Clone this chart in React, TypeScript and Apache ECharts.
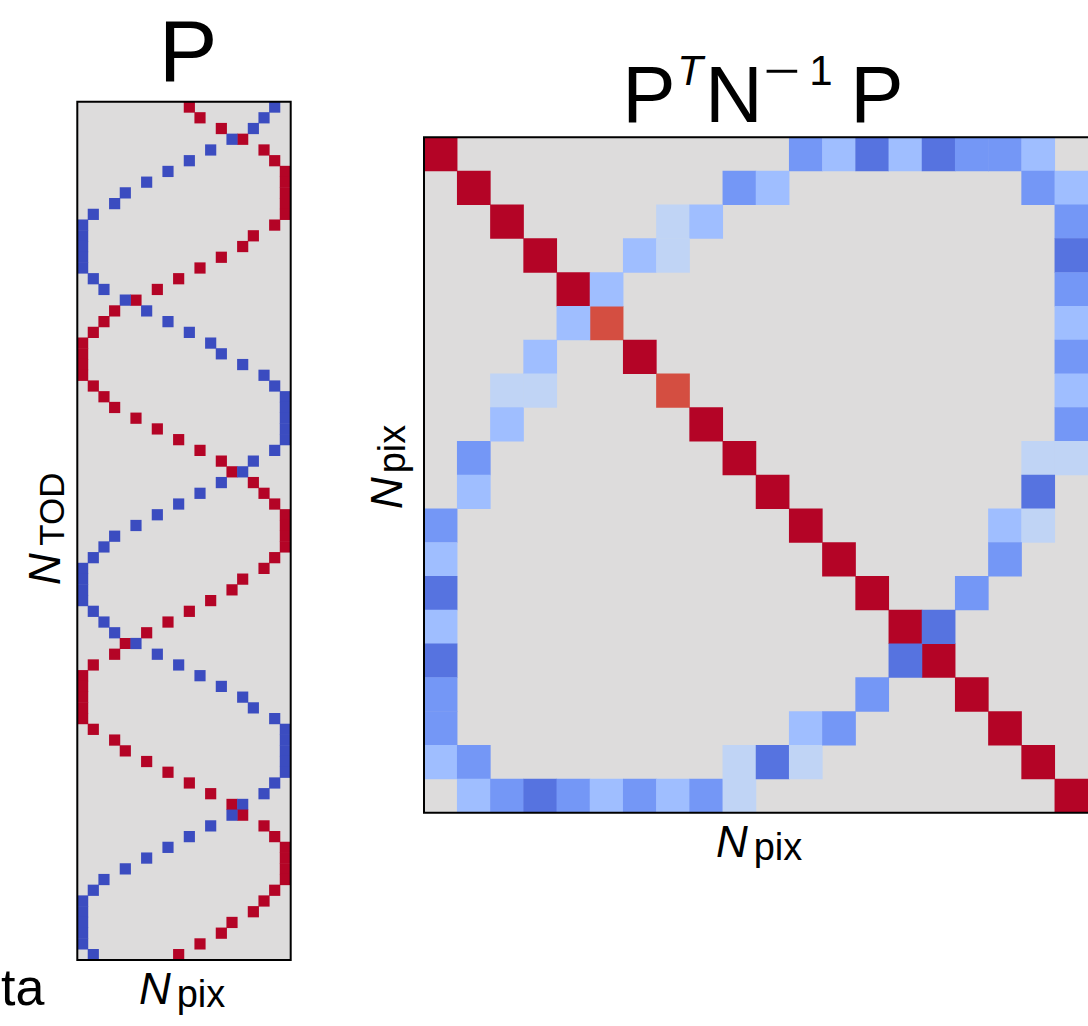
import React, { useEffect, useRef } from "react";
import * as echarts from "echarts";

// ---------- data ----------
const NPIX = 20;
const NTOD = 80;
const pixCategories = Array.from({ length: NPIX }, (_, i) => String(i));
const todCategories = Array.from({ length: NTOD }, (_, i) => String(i));

// P matrix: for each TOD sample, the pixel hit with +1 (red) and with -1 (blue)
const redPix = [
  10, 11, 13, 15, 17, 18, 19, 19, 19, 19,
  19, 18, 16, 15, 13, 11, 9, 7, 5, 3,
  2, 1, 0, 0, 0, 0, 1, 2, 3, 5,
  7, 9, 11, 13, 14, 16, 17, 18, 19, 19,
  19, 19, 18, 17, 15, 14, 12, 10, 8, 6,
  4, 3, 1, 0, 0, 0, 0, 0, 1, 3,
  4, 6, 8, 10, 12, 14, 15, 17, 18, 19,
  19, 19, 19, 18, 17, 16, 14, 13, 11, 9,
];
const bluePix = [
  18, 17, 16, 14, 12, 10, 8, 6, 4, 3,
  1, 0, 0, 0, 0, 0, 1, 2, 4, 6,
  8, 10, 12, 13, 15, 17, 18, 19, 19, 19,
  19, 19, 18, 16, 15, 13, 11, 9, 7, 5,
  3, 2, 1, 0, 0, 0, 0, 1, 2, 3,
  5, 7, 9, 11, 13, 15, 16, 18, 19, 19,
  19, 19, 19, 18, 17, 15, 14, 12, 10, 8,
  6, 4, 2, 1, 0, 0, 0, 0, 0, 1,
];
const redValue = 1;
const blueValue = -1;

// P^T N^-1 P (normalised to the colour range)
const diagValues = [1, 1, 1, 1, 1, 0.82, 1, 0.82, 1, 1, 1, 1, 1, 1, 1, 1, 1, 1, 1, 1];
// upper-triangle off-diagonal entries [row, col, value]; the matrix is symmetric
const offDiag: [number, number, number][] = [
  [0, 11, -0.64], [0, 12, -0.4], [0, 13, -0.82], [0, 14, -0.4], [0, 15, -0.82],
  [0, 16, -0.64], [0, 17, -0.64], [0, 18, -0.4],
  [1, 9, -0.64], [1, 10, -0.4], [1, 18, -0.64], [1, 19, -0.4],
  [2, 7, -0.2], [2, 8, -0.4], [2, 19, -0.64],
  [3, 6, -0.4], [3, 7, -0.2], [3, 19, -0.82],
  [4, 5, -0.4], [4, 19, -0.64],
  [5, 19, -0.4],
  [6, 19, -0.64],
  [7, 19, -0.4],
  [8, 19, -0.64],
  [9, 18, -0.2], [9, 19, -0.2],
  [10, 18, -0.82],
  [11, 17, -0.4], [11, 18, -0.2],
  [12, 17, -0.64],
  [13, 16, -0.64],
  [14, 15, -0.82],
];

// matplotlib "coolwarm"
const coolwarm = [
  "#3b4cc0", "#445acc", "#4d68d7", "#5775e1", "#6282ea", "#6c8ef1", "#779af7", "#82a5fb",
  "#8db0fe", "#98b9ff", "#a3c2ff", "#aec9fd", "#b8d0f9", "#c2d5f4", "#ccd9ee", "#d5dbe6",
  "#dddcdc", "#e5d8d1", "#ecd3c5", "#f1ccb8", "#f5c4ad", "#f7bba0", "#f7b194", "#f7a688",
  "#f49a7b", "#f18d6f", "#ec7f63", "#e57058", "#de604d", "#d55042", "#cb3e38", "#c0282f",
  "#b40426",
];
const zeroColor = "#dddcdc";

// ---------- layout ----------
const FONT = "'Liberation Sans', Arial, sans-serif";
const leftBox = { left: 77.3, top: 101.7, width: 213.4, height: 858.3 };
const rightBox = { left: 424, top: 137.3, width: 675.4, height: 675.4 };

function buildPData() {
  const d: [number, number, number][] = [];
  for (let r = 0; r < NTOD; r++) {
    d.push([redPix[r], r, redValue]);
    d.push([bluePix[r], r, blueValue]);
  }
  return d;
}

function buildMData() {
  const d: [number, number, number][] = [];
  diagValues.forEach((v, i) => d.push([i, i, v]));
  offDiag.forEach(([r, c, v]) => {
    d.push([c, r, v]);
    d.push([r, c, v]);
  });
  return d;
}

function txt(
  text: string,
  x: number,
  y: number,
  fontSize: number,
  opts: any = {}
) {
  return {
    type: "text",
    x,
    y,
    rotation: opts.rotation || 0,
    scaleX: opts.scaleX || 1,
    z: 100,
    style: {
      text,
      fontSize,
      fontFamily: FONT,
      fontStyle: opts.italic ? "italic" : "normal",
      fill: "#000",
      align: opts.align || "center",
      verticalAlign: "middle",
    },
  };
}

function frame(b: { left: number; top: number; width: number; height: number }) {
  return {
    type: "rect",
    z: 100,
    shape: { x: b.left, y: b.top, width: b.width, height: b.height },
    style: { fill: "transparent", stroke: "#000", lineWidth: 2 },
  };
}

export default function App() {
  const ref = useRef<HTMLDivElement>(null);

  useEffect(() => {
    if (!ref.current) return;
    const chart = echarts.init(ref.current, null, { renderer: "svg" });
    const option: any = {
      animation: false,
      backgroundColor: "#ffffff",
      grid: [
        { ...leftBox, show: true, backgroundColor: zeroColor, borderWidth: 0 },
        { ...rightBox, show: true, backgroundColor: zeroColor, borderWidth: 0 },
      ],
      xAxis: [
        { type: "category", data: pixCategories, gridIndex: 0, show: false },
        { type: "category", data: pixCategories, gridIndex: 1, show: false },
      ],
      yAxis: [
        { type: "category", data: todCategories, gridIndex: 0, inverse: true, show: false },
        { type: "category", data: pixCategories, gridIndex: 1, inverse: true, show: false },
      ],
      visualMap: {
        type: "continuous",
        show: false,
        min: -1,
        max: 1,
        seriesIndex: [0, 1],
        inRange: { color: coolwarm },
      },
      series: [
        {
          type: "heatmap",
          xAxisIndex: 0,
          yAxisIndex: 0,
          data: buildPData(),
          emphasis: { disabled: true },
        },
        {
          type: "heatmap",
          xAxisIndex: 1,
          yAxisIndex: 1,
          data: buildMData(),
          emphasis: { disabled: true },
        },
      ],
      graphic: [
        frame(leftBox),
        frame(rightBox),
        // titles
        txt("P", 188, 50, 88),
        txt("P", 649, 94, 80),
        txt("T", 690, 70, 42, { italic: true }),
        txt("N", 734, 94, 80),
        txt("−", 782, 70, 42, { scaleX: 1.5 }),
        txt("1", 821, 70, 42),
        txt("P", 877, 94, 80),
        // left x label
        txt("N", 155, 988, 44, { italic: true }),
        txt("pix", 201, 994, 38),
        // right x label
        txt("N", 732, 841, 44, { italic: true }),
        txt("pix", 778, 847, 38),
        // left y label
        txt("N", 44, 569, 44, { italic: true, rotation: Math.PI / 2 }),
        txt("TOD", 51, 509, 35, { rotation: Math.PI / 2 }),
        // right y label
        txt("N", 386, 493, 44, { italic: true, rotation: Math.PI / 2 }),
        txt("pix", 392, 449, 38, { rotation: Math.PI / 2 }),
        // partially visible text at bottom left
        txt("ta", 1, 987, 52, { align: "left" }),
      ],
    };
    chart.setOption(option);
    return () => chart.dispose();
  }, []);

  return (
    <div
      ref={ref}
      style={{ position: "absolute", left: 0, top: 0, width: 1088, height: 1026, background: "#fff" }}
    />
  );
}
